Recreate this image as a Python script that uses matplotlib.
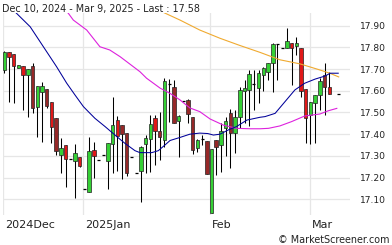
import numpy as np
import matplotlib
matplotlib.use("Agg")
import matplotlib.pyplot as plt
from matplotlib.patches import Rectangle

# ---------------- data ----------------
nan = np.nan
opens = [17.696, 17.780, 17.768, 17.704, 17.716, 17.673, 17.714, 17.527, 17.596, 17.607,
         17.547, 17.473, 17.304, 17.350, 17.284, 17.278, 17.294, 17.146, 17.132, 17.327,
         17.280, 17.304, 17.278, 17.355, 17.465, 17.442, 17.404, 17.294, 17.220, 17.230,
         17.353, 17.378, 17.473, 17.415, 17.373, 17.630, 17.616, 17.462, 17.554, 17.558,
         17.481, 17.335, 17.377, 17.369, 17.035, 17.373, 17.350, 17.427, 17.496, 17.407,
         17.481, 17.600, 17.604, 17.630, 17.612, 17.673, 17.688, 17.727, 17.814, 17.796,
         17.796, 17.822, 17.806, 17.796, 17.607, 17.488, 17.545, 17.581, 17.673, 17.619,
         nan, 17.585]
highs = [17.782, 17.780, 17.770, 17.717, 17.716, 17.699, 17.729, 17.622, 17.642, 17.607,
         17.547, 17.473, 17.381, 17.350, 17.286, 17.355, 17.294, 17.146, 17.388, 17.365,
         17.280, 17.304, 17.358, 17.570, 17.484, 17.442, 17.404, 17.294, 17.220, 17.345,
         17.395, 17.488, 17.490, 17.504, 17.658, 17.653, 17.650, 17.490, 17.554, 17.560,
         17.481, 17.380, 17.395, 17.369, 17.330, 17.373, 17.450, 17.480, 17.515, 17.510,
         17.619, 17.650, 17.696, 17.696, 17.696, 17.710, 17.730, 17.822, 17.814, 17.796,
         17.888, 17.822, 17.849, 17.796, 17.607, 17.550, 17.581, 17.660, 17.729, 17.688,
         nan, 17.585]
lows = [17.681, 17.550, 17.545, 17.704, 17.512, 17.481, 17.496, 17.386, 17.365, 17.520,
        17.358, 17.304, 17.223, 17.158, 17.284, 17.105, 17.250, 17.146, 17.132, 17.200,
        17.280, 17.304, 17.148, 17.220, 17.232, 17.192, 17.207, 17.294, 17.220, 17.089,
        17.223, 17.227, 17.258, 17.281, 17.340, 17.458, 17.450, 17.294, 17.554, 17.450,
        17.307, 17.320, 17.350, 17.217, 17.035, 17.212, 17.227, 17.300, 17.243, 17.315,
        17.427, 17.450, 17.440, 17.512, 17.542, 17.600, 17.650, 17.596, 17.650, 17.796,
        17.796, 17.627, 17.765, 17.570, 17.361, 17.355, 17.361, 17.512, 17.488, 17.585,
        nan, 17.585]
closes = [17.780, 17.757, 17.716, 17.717, 17.673, 17.699, 17.519, 17.622, 17.622, 17.531,
          17.432, 17.323, 17.335, 17.284, 17.284, 17.312, 17.255, 17.146, 17.323, 17.301,
          17.280, 17.304, 17.358, 17.442, 17.393, 17.401, 17.220, 17.294, 17.220, 17.340,
          17.384, 17.446, 17.416, 17.388, 17.647, 17.630, 17.453, 17.484, 17.554, 17.493,
          17.327, 17.373, 17.377, 17.217, 17.330, 17.340, 17.415, 17.461, 17.404, 17.481,
          17.604, 17.612, 17.677, 17.630, 17.681, 17.704, 17.727, 17.814, 17.814, 17.796,
          17.829, 17.799, 17.822, 17.600, 17.476, 17.550, 17.581, 17.645, 17.619, 17.585,
          nan, 17.585]

# moving averages: (candle position, value) points
ma_blue_x = [0, 2.6, 5.5, 8.3, 11.1, 13.25, 15, 16.8, 18.2, 19.25, 21.4, 23.5, 25.6, 27.75,
             28.8, 31.3, 32.7, 34.1, 35.2, 37.3, 39.4, 41.5, 43.2, 44.4, 45.8, 47.6, 49.3,
             51.5, 54.3, 55.35, 57.5, 59.6, 61.7, 63.8, 66, 68.1, 69.2, 70.9]
ma_blue_y = [18.01, 17.957, 17.895, 17.803, 17.711, 17.635, 17.581, 17.527, 17.496, 17.473,
             17.435, 17.396, 17.358, 17.324, 17.315, 17.315, 17.324, 17.350, 17.371, 17.385,
             17.400, 17.405, 17.403, 17.396, 17.400, 17.420, 17.435, 17.465, 17.478, 17.481,
             17.496, 17.550, 17.604, 17.635, 17.654, 17.668, 17.681, 17.681]
ma_mag_x = [11, 13.6, 14.65, 17.5, 20.3, 22.4, 24.6, 28.8, 30.2, 33.1, 35.2, 37.3, 39.4,
            41.5, 43.7, 46.5, 49.3, 52.2, 54.3, 56.1, 58.5, 61, 63.8, 67, 68.8, 70.6]
ma_mag_y = [18.01, 17.957, 17.926, 17.880, 17.803, 17.788, 17.757, 17.688, 17.658, 17.612,
            17.588, 17.558, 17.521, 17.504, 17.470, 17.442, 17.427, 17.425, 17.425, 17.427,
            17.438, 17.458, 17.484, 17.493, 17.508, 17.519]
ma_org_x = [30, 34.5, 37.3, 41.5, 45.8, 50.0, 54.3, 58.5, 62.8, 67.0, 69.1, 71.0]
ma_org_y = [18.00, 17.954, 17.926, 17.880, 17.842, 17.809, 17.777, 17.743, 17.724, 17.696,
            17.681, 17.664]

price_ticks = [17.10, 17.20, 17.30, 17.40, 17.50, 17.60, 17.70, 17.80, 17.90]
month_labels = ["2024Dec", "2025Jan", "Feb", "Mar"]
month_pos = [-0.3, 16.7, 43.7, 64.9]

title = "Dec 10, 2024 - Mar 9, 2025 - Last : 17.58"
credit = "\u00a9 MarketScreener.com"

# styling (not data)
dark_red_idx = {6, 9, 11, 25, 26, 33, 36, 39, 40, 43, 45, 48, 68}
GREEN = "#35d035"
RED = "#e01818"
DARK_RED = "#962828"

# ---------------- figure ----------------
W, H = 392, 245
fig = plt.figure(figsize=(W / 100, H / 100), dpi=100)
fig.patch.set_facecolor("white")
ax = fig.add_axes([3 / W, (H - 215) / H, 347 / W, 202 / H])
ax.set_facecolor("white")
for s in ax.spines.values():
    s.set_visible(False)

ax.set_xlim(-0.276, 73.4)
ax.set_ylim(17.0276, 17.9585)

# grid
for t in price_ticks:
    ax.axhline(t, color="#e6e6e6", lw=0.9, zorder=0)
for p in month_pos:
    ax.axvline(p, color="#e6e6e6", lw=0.9, zorder=0)

# candles
bw = 0.74
for i in range(len(opens)):
    o, h, l, c = opens[i], highs[i], lows[i], closes[i]
    if np.isnan(o):
        continue
    if h > l:
        ax.vlines(i, l, h, color="black", lw=0.75, zorder=2)
    if abs(c - o) < 1e-9:
        ax.hlines(c, i - 0.33, i + 0.33, color="black", lw=0.9, zorder=3)
        continue
    if c > o:
        fc = GREEN
    else:
        fc = DARK_RED if i in dark_red_idx else RED
    ax.add_patch(Rectangle((i - bw / 2, min(o, c)), bw, abs(c - o), facecolor=fc,
                           edgecolor="#222222", lw=0.5, zorder=3))

# moving averages
ax.plot(ma_org_x, ma_org_y, color="#f0aa30", lw=0.8, zorder=4)
ax.plot(ma_mag_x, ma_mag_y, color="#dd22dd", lw=0.8, zorder=4)
ax.plot(ma_blue_x, ma_blue_y, color="#000099", lw=0.75, zorder=4)

# y labels on the right
ax.set_yticks(price_ticks)
ax.set_yticklabels([f"{t:.2f}" for t in price_ticks])
ax.yaxis.tick_right()
ax.tick_params(axis="y", length=0, pad=7, labelsize=6.6, labelcolor="#222222")
ax.set_xticks([])

# month labels
for p, lab in zip(month_pos, month_labels):
    ax.text(p + 0.45, -0.05, lab, transform=ax.get_xaxis_transform(), ha="left",
            va="center", fontsize=8.0, color="#222222")

fig.text(2 / W, 1 - 9 / H, title, ha="left", va="center", fontsize=6.9, color="#222222")
fig.text(390 / W, 1 - 240 / H, credit, ha="right", va="center", fontsize=6.9, color="#222222")

fig.savefig("out.png", dpi=100)
